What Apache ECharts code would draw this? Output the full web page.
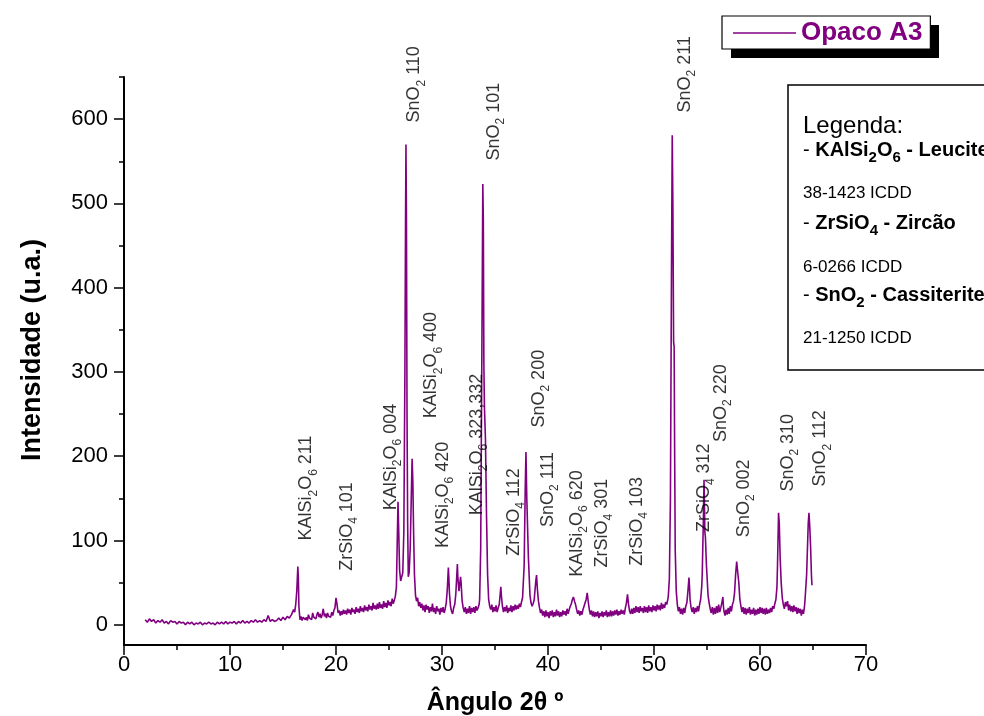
<!DOCTYPE html>
<html><head><meta charset="utf-8">
<script src="https://cdn.jsdelivr.net/npm/echarts@6/dist/echarts.min.js"></script>
<style>html,body{margin:0;padding:0;background:#fff}#c{width:984px;height:716px}</style>
</head><body><div id="c"></div>
<script>
const seriesName = 'Opaco A3';
const xAxisTitle = 'Ângulo 2θ º';
const yAxisTitle = 'Intensidade (u.a.)';

// [2θ, intensity]
const pattern = [
[2.0,6],[2.2,3],[2.4,7],[2.6,4],[2.8,6],[3.0,2],[3.2,5],[3.4,3],[3.6,6],[3.8,2],
[4.0,4],[4.2,1],[4.4,5],[4.6,3],[4.8,4],[5.0,1],[5.2,4],[5.4,2],[5.6,3],[5.8,0],
[6.0,3],[6.2,1],[6.4,3],[6.6,0],[6.8,2],[7.0,1],[7.2,3],[7.4,0],[7.6,2],[7.8,1],
[8.0,3],[8.2,1],[8.4,2],[8.6,0],[8.8,3],[9.0,1],[9.2,3],[9.4,1],[9.6,4],[9.8,1],
[10.0,3],[10.2,2],[10.4,4],[10.6,1],[10.8,4],[11.0,2],[11.2,5],[11.4,2],[11.6,4],[11.8,2],
[12.0,5],[12.2,3],[12.4,6],[12.6,3],[12.8,5],[13.0,3],[13.2,6],[13.4,4],[13.6,11],[13.8,4],
[14.0,6],[14.2,4],[14.4,5],[14.6,8],[14.8,5],[15.0,9],[15.2,6],[15.4,10],[15.6,8],[15.8,12],
[15.9,14],[16.0,18],[16.1,15],[16.2,24],[16.3,40],[16.4,69],[16.45,55],[16.5,22],
[16.6,6],[16.7,10],[16.8,5],[16.9,9],[17.0,11],[17.1,6],[17.2,9],[17.3,5],[17.4,12],[17.5,8],
[17.6,10],[17.7,6],[17.8,14],[17.9,9],[18.0,11],[18.1,7],[18.2,12],[18.3,15],[18.4,9],[18.5,13],
[18.6,8],[18.7,12],[18.8,19],[18.9,10],[19.0,13],[19.1,8],[19.2,14],[19.3,10],[19.4,12],[19.5,9],
[19.6,15],[19.7,11],[19.8,17],[19.9,20],[20.0,32],[20.05,28],[20.1,24],[20.2,14],[20.3,17],[20.4,11],
[20.5,16],[20.6,12],[20.7,18],[20.8,13],[20.9,17],[21.0,12],[21.1,19],[21.2,14],[21.3,18],[21.4,12],
[21.5,20],[21.6,15],[21.7,18],[21.8,13],[21.9,21],[22.0,15],[22.1,19],[22.2,14],[22.3,22],[22.4,16],
[22.5,20],[22.6,15],[22.7,23],[22.8,17],[22.9,21],[23.0,16],[23.1,24],[23.2,18],[23.3,22],[23.4,17],
[23.5,26],[23.6,19],[23.7,23],[23.8,18],[23.9,25],[24.0,19],[24.1,27],[24.2,20],[24.3,24],[24.4,19],
[24.5,28],[24.6,21],[24.7,26],[24.8,20],[24.9,29],[25.0,23],[25.1,27],[25.2,22],[25.3,31],[25.4,25],
[25.5,29],[25.6,34],[25.7,45],[25.78,100],[25.85,146],[25.92,110],[26.0,65],[26.1,52],[26.2,57],[26.3,62],
[26.4,110],[26.5,300],[26.56,480],[26.6,570],[26.65,470],[26.7,250],[26.76,120],[26.82,57],[26.9,62],[27.0,90],
[27.1,150],[27.18,197],[27.25,170],[27.32,110],[27.4,60],[27.5,35],
[27.6,28],[27.7,32],[27.8,22],[27.9,27],[28.0,20],[28.1,25],[28.2,17],[28.3,23],[28.4,15],[28.5,24],
[28.6,18],[28.7,22],[28.8,14],[28.9,21],[29.0,16],[29.1,25],[29.2,15],[29.3,20],[29.4,13],[29.5,22],
[29.6,16],[29.7,19],[29.8,12],[29.9,20],[30.0,15],[30.1,21],[30.2,14],[30.3,19],[30.4,26],[30.5,42],
[30.6,68],[30.65,55],[30.7,38],[30.8,22],[30.9,16],[31.0,13],[31.1,20],[31.2,24],[31.3,36],[31.4,60],
[31.45,72],[31.5,55],[31.6,40],[31.7,42],[31.75,57],[31.8,50],[31.9,28],[32.0,20],[32.1,15],[32.2,21],
[32.3,13],[32.4,19],[32.5,14],[32.6,22],[32.7,13],[32.8,20],[32.9,15],[33.0,21],[33.1,14],[33.2,22],
[33.3,17],[33.4,20],[33.5,24],[33.55,30],[33.65,90],[33.75,300],[33.85,523],[33.9,480],[33.95,310],[34.0,260],
[34.05,240],[34.1,220],[34.2,130],[34.3,60],
[34.4,30],[34.5,22],[34.6,18],[34.7,24],[34.8,15],[34.9,21],[35.0,16],[35.1,23],[35.2,15],[35.3,20],
[35.4,24],[35.5,38],[35.55,45],[35.6,35],[35.7,22],[35.8,15],[35.9,21],[36.0,16],[36.1,23],[36.2,14],
[36.3,20],[36.4,16],[36.5,23],[36.6,15],[36.7,22],[36.8,17],[36.9,24],[37.0,18],[37.1,23],[37.2,19],
[37.3,25],[37.4,21],[37.5,27],[37.6,32],[37.75,70],[37.85,160],[37.92,205],[38.0,150],[38.05,148],[38.15,80],
[38.3,35],[38.4,26],[38.5,22],[38.6,25],[38.7,30],[38.8,45],[38.85,52],[38.92,59],[39.0,42],[39.1,28],
[39.2,20],[39.3,14],[39.4,18],[39.5,11],[39.6,16],[39.7,9],[39.8,17],[39.9,10],[40.0,15],[40.1,8],
[40.2,16],[40.3,11],[40.4,17],[40.5,9],[40.6,15],[40.7,10],[40.8,18],[40.9,11],[41.0,16],[41.1,9],
[41.2,15],[41.3,10],[41.4,17],[41.5,12],[41.6,16],[41.7,11],[41.8,19],[41.9,13],[42.0,18],[42.1,22],
[42.2,25],[42.3,30],[42.4,33],[42.5,28],[42.6,24],[42.7,18],[42.8,13],[42.9,17],[43.0,11],[43.1,16],
[43.2,12],[43.3,18],[43.4,22],[43.5,26],[43.6,30],[43.7,38],[43.8,27],[43.9,18],[44.0,12],[44.1,17],
[44.2,10],[44.3,16],[44.4,9],[44.5,15],[44.6,10],[44.7,16],[44.8,8],[44.9,14],[45.0,10],[45.1,16],
[45.2,9],[45.3,15],[45.4,11],[45.5,17],[45.6,9],[45.7,15],[45.8,10],[45.9,17],[46.0,10],[46.1,16],
[46.2,11],[46.3,17],[46.4,12],[46.5,18],[46.6,11],[46.7,16],[46.8,12],[46.9,18],[47.0,13],[47.1,17],
[47.2,12],[47.3,20],[47.4,26],[47.5,36],[47.6,24],[47.7,16],[47.8,13],[47.9,19],[48.0,13],[48.1,20],
[48.2,14],[48.3,22],[48.4,15],[48.5,21],[48.6,14],[48.7,22],[48.8,16],[48.9,20],[49.0,14],[49.1,22],
[49.2,15],[49.3,21],[49.4,14],[49.5,23],[49.6,16],[49.7,21],[49.8,15],[49.9,23],[50.0,17],[50.1,22],
[50.2,16],[50.3,24],[50.4,18],[50.5,23],[50.6,17],[50.7,26],[50.8,19],[50.9,24],[51.0,20],[51.1,27],
[51.2,24],[51.3,30],[51.35,34],[51.45,55],[51.55,150],[51.65,420],[51.72,581],[51.78,500],[51.85,335],[51.9,330],
[51.95,200],[52.0,90],[52.1,40],[52.2,24],[52.3,16],[52.4,21],[52.5,13],[52.6,19],[52.7,12],[52.8,20],
[52.9,14],[53.0,22],[53.1,26],[53.2,40],[53.3,56],[53.35,45],[53.4,30],[53.5,20],[53.6,15],[53.7,21],
[53.8,13],[53.9,20],[54.0,15],[54.1,22],[54.2,16],[54.3,24],[54.4,30],[54.5,45],[54.55,60],[54.65,120],
[54.72,172],[54.8,110],[54.85,104],[54.95,70],[55.1,35],[55.2,26],[55.3,19],[55.4,14],[55.5,21],[55.6,12],
[55.7,20],[55.8,13],[55.9,22],[56.0,14],[56.1,24],[56.2,15],[56.3,20],[56.4,26],[56.5,33],[56.55,22],
[56.6,16],[56.7,11],[56.8,18],[56.9,12],[57.0,20],[57.1,13],[57.2,22],[57.3,16],[57.4,24],[57.5,28],
[57.6,38],[57.7,60],[57.8,75],[57.9,62],[58.0,50],[58.1,30],[58.2,22],[58.3,15],[58.4,21],[58.5,13],
[58.6,20],[58.7,12],[58.8,19],[58.9,14],[59.0,21],[59.1,12],[59.2,18],[59.3,13],[59.4,20],[59.5,11],
[59.6,18],[59.7,12],[59.8,19],[59.9,13],[60.0,21],[60.1,14],[60.2,20],[60.3,13],[60.4,19],[60.5,12],
[60.6,20],[60.7,13],[60.8,18],[60.9,14],[61.0,20],[61.1,15],[61.2,22],[61.3,19],[61.4,25],[61.5,30],
[61.6,45],[61.65,70],[61.75,133],[61.82,120],[61.9,80],[62.0,50],[62.1,32],[62.2,24],[62.3,19],[62.4,27],
[62.5,22],[62.6,28],[62.7,17],[62.8,24],[62.9,16],[63.0,22],[63.1,15],[63.2,23],[63.3,16],[63.4,21],
[63.5,13],[63.6,20],[63.7,14],[63.8,19],[63.9,11],[64.0,18],[64.1,13],[64.2,22],[64.25,30],[64.4,60],
[64.55,120],[64.62,133],[64.7,115],[64.78,90],[64.85,60],[64.9,47]
];

// Peak annotations ("_d" marks a subscript digit)
const peakLabels = [
 'KAlSi_2O_6 211','ZrSiO_4 101','KAlSi_2O_6 004','SnO_2 110','KAlSi_2O_6 400',
 'KAlSi_2O_6 420','KAlSi_2O_6 323,332','SnO_2 101','ZrSiO_4 112','SnO_2 200',
 'SnO_2 111','KAlSi_2O_6 620','ZrSiO_4 301','ZrSiO_4 103','SnO_2 211',
 'ZrSiO_4 312','SnO_2 220','SnO_2 002','SnO_2 310','SnO_2 112'
];
const peakLabelX = [17.3,21.1,25.3,27.5,29.1,30.2,33.4,35.0,36.9,39.25,40.1,42.8,45.2,48.5,53.0,54.8,56.4,58.6,62.7,65.8];
const peakLabelY = [100,64,136,596,245,91,130,551,82,234,116,57,68,70,608,110,217,104,158,164];

const xTicks = [0,10,20,30,40,50,60,70];
const yTicks = [0,100,200,300,400,500,600];
const yMinorTicks = [50,150,250,350,450,550,650];

const legendTitle = 'Legenda:';
const phaseFormula = ['KAlSi_2O_6','ZrSiO_4','SnO_2'];
const phaseMineral = ['Leucite','Zircão','Cassiterite'];
const phaseCard = ['38-1423 ICDD','6-0266 ICDD','21-1250 ICDD'];

const FONT = 'Liberation Sans, Arial, sans-serif';
const PURPLE = '#800080';

function toRich(str, n, s) {
  const parts = str.split(/_(\d)/);
  let out = '';
  parts.forEach((p, i) => {
    if (p === '') return;
    out += '{' + (i % 2 ? s : n) + '|' + p + '}';
  });
  return out;
}

const chart = echarts.init(document.getElementById('c'), null, {renderer: 'canvas'});

const labelRich = {
  n: {fontSize: 18, fontFamily: FONT, color: '#000', lineHeight: 20, verticalAlign: 'top'},
  s: {fontSize: 12, fontFamily: FONT, color: '#000', lineHeight: 13, padding: [10, 0, 0, 0], verticalAlign: 'top'}
};
const boxRich = {
  r: {fontSize: 20, fontFamily: FONT, color: '#000', lineHeight: 22, verticalAlign: 'top'},
  b: {fontSize: 20, fontFamily: FONT, fontWeight: 'bold', color: '#000', lineHeight: 22, verticalAlign: 'top'},
  bs: {fontSize: 15, fontFamily: FONT, fontWeight: 'bold', color: '#000', lineHeight: 16, padding: [10, 0, 0, 0], verticalAlign: 'top'}
};

const boxLeft = 803;
const phaseY = [140, 213, 285];
const cardY = [193, 267, 338];
const graphics = [
  // drop shadow behind the series legend box
  {type: 'rect', z: 0, shape: {x: 731, y: 25, width: 208, height: 33}, style: {fill: '#000'}},
  {type: 'rect', z: 10, shape: {x: 788, y: 85, width: 230, height: 285},
   style: {fill: '#fff', stroke: '#000', lineWidth: 1.5}},
  {type: 'text', z: 11, x: boxLeft, y: 126,
   style: {text: legendTitle, fontSize: 24, fontFamily: FONT, fill: '#000', verticalAlign: 'middle', align: 'left'}}
];
phaseFormula.forEach((f, i) => {
  graphics.push({type: 'text', z: 11, x: boxLeft, y: phaseY[i],
    style: {text: '{r|- }' + toRich(f, 'b', 'bs') + '{b| - ' + phaseMineral[i] + '}', rich: boxRich,
      verticalAlign: 'top', align: 'left'}});
  graphics.push({type: 'text', z: 11, x: boxLeft, y: cardY[i],
    style: {text: phaseCard[i], fontSize: 17, fontFamily: FONT, fill: '#000', verticalAlign: 'middle', align: 'left'}});
});

const option = {
  animation: false,
  backgroundColor: '#fff',
  grid: {left: 124, right: 118, top: 77, bottom: 71, containLabel: false, outerBoundsMode: 'none'},
  legend: {
    data: [seriesName], left: 722, top: 16, z: 5,
    icon: 'rect', itemWidth: 63, itemHeight: 1.5,
    padding: [4, 8, 3, 11],
    backgroundColor: '#fff', borderColor: '#000', borderWidth: 1.2,
    textStyle: {fontSize: 26, fontWeight: 'bold', color: PURPLE, fontFamily: FONT},
    selectedMode: false
  },
  xAxis: {
    type: 'value', min: xTicks[0], max: xTicks[xTicks.length - 1], interval: 10,
    name: xAxisTitle, nameLocation: 'middle', nameGap: 46,
    nameTextStyle: {fontSize: 25, fontWeight: 'bold', color: '#000', fontFamily: FONT},
    axisLine: {onZero: false, lineStyle: {color: '#000', width: 2}},
    axisTick: {length: 10, lineStyle: {color: '#000', width: 1.5}},
    minorTick: {show: true, splitNumber: 2, length: 5, lineStyle: {color: '#000', width: 1.5}},
    axisLabel: {fontSize: 22, color: '#000', fontFamily: FONT, margin: 9},
    splitLine: {show: false}, minorSplitLine: {show: false}
  },
  yAxis: [{
    type: 'value', min: -24, max: 650,
    name: yAxisTitle, nameLocation: 'middle', nameGap: 78, nameRotate: 90,
    nameTextStyle: {fontSize: 27, fontWeight: 'bold', color: '#000', fontFamily: FONT, padding: [0, 0, 0, 22]},
    axisLine: {show: true, onZero: false, lineStyle: {color: '#000', width: 2}},
    axisTick: {show: true, customValues: yTicks, length: 10, lineStyle: {color: '#000', width: 1.5}},
    axisLabel: {customValues: yTicks, fontSize: 22, color: '#000', fontFamily: FONT, margin: 16},
    splitLine: {show: false}
  }, {
    type: 'value', min: -24, max: 650, position: 'left',
    axisLine: {show: false, onZero: false},
    axisTick: {show: true, customValues: yMinorTicks, length: 5, lineStyle: {color: '#000', width: 1.5}},
    axisLabel: {show: false},
    splitLine: {show: false}
  }],
  series: [{
    name: seriesName, type: 'line', data: pattern, showSymbol: false, symbol: 'none',
    lineStyle: {color: PURPLE, width: 1.6}, itemStyle: {color: PURPLE}, z: 3
  }, {
    name: 'labels', type: 'scatter', symbolSize: 0, silent: true, z: 5,
    data: peakLabels.map((t, i) => ({name: t, value: [peakLabelX[i], peakLabelY[i]]})),
    label: {
      show: true, position: 'inside', rotate: 90, align: 'left', verticalAlign: 'middle',
      formatter: p => toRich(p.name, 'n', 's'), rich: labelRich
    }
  }],
  graphic: graphics
};
chart.setOption(option);
</script>
</body></html>
